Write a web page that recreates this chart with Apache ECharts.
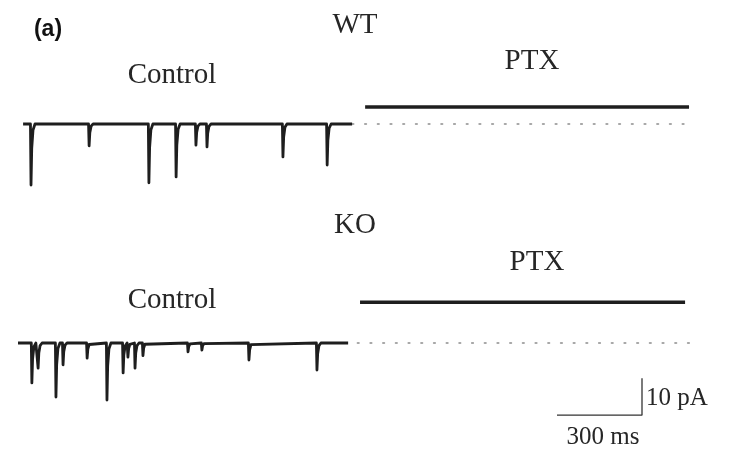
<!DOCTYPE html>
<html>
<head>
<meta charset="utf-8">
<script src="https://cdn.jsdelivr.net/npm/echarts@6/dist/echarts.min.js"></script>
<style>
  html, body { margin: 0; padding: 0; background: #fff; }
  #chart { width: 729px; height: 449px; }
</style>
</head>
<body>
<div id="chart"></div>
<script>
// time in ms, current in pA (0 = control holding level)
const wtControlSpan = [25, 1186];
const wtEventTimes = [53, 258, 469, 565, 635, 674, 942, 1098];
const wtEventAmps  = [-16.5, -5.9, -15.9, -14.3, -5.7, -6.2, -8.9, -11.1];
const wtPtxSpan = [1232, 2375];
const wtPtxLevel = 4.6;
const wtDotSpan = [1186, 2389];

const koControlSpan = [7, 1172];
const koEventTimes = [56, 78, 141, 166, 251, 321, 378, 395, 420, 448, 607, 656, 822, 1062];
const koEventAmps  = [-10.8, -6.8, -14.6, -5.9, -4.1, -15.4, -8.1, -3.8, -6.8, -3.4, -2.4, -1.9, -4.6, -7.3];
const koPtxSpan = [1214, 2361];
const koPtxLevel = 11.0;
const koDotSpan = [1160, 2379];

// scale bar: 300 ms, 10 pA
const barTime = 300;
const barCurrent = 10;
const barStart = [1909, -19.5];

function trace(span, times, amps) {
  const pts = [[span[0], 0]];
  times.forEach((t, i) => {
    const a = amps[i];
    pts.push([t - 2, 0], [t, a], [t + 2.5, a * 0.4], [t + 7, a * 0.1], [t + 14, 0]);
  });
  pts.push([span[1], 0]);
  return pts;
}

const ink = '#1e1e1e';
const serif = 'Liberation Serif';

function traceSeries(idx, data, w) {
  return { type: 'line', xAxisIndex: idx, yAxisIndex: idx, data, symbol: 'none', silent: true,
    lineStyle: { color: ink, width: w, join: 'round' } };
}
function dotSeries(idx, span) {
  return { type: 'line', xAxisIndex: idx, yAxisIndex: idx, data: [[span[0], 0], [span[1], 0]],
    symbol: 'none', silent: true, lineStyle: { color: '#8c8c8c', width: 1.6, type: [1.6, 11.1], cap: 'round' } };
}

const chart = echarts.init(document.getElementById('chart'));
const axX = { type: 'value', min: 0, max: 2516, show: false };
const axY = { type: 'value', min: -20, max: 20, show: false };

function txt(s, x, y, size, extra) {
  return { type: 'text', x, y, style: Object.assign({ text: s, fontFamily: serif, fontSize: size,
    fill: '#262626', align: 'center', verticalAlign: 'middle' }, extra || {}) };
}

chart.setOption({
  animation: false,
  grid: [
    { left: 16, right: 0, top: 50, height: 148 },
    { left: 16, right: 0, top: 269, height: 148 }
  ],
  xAxis: [Object.assign({ gridIndex: 0 }, axX), Object.assign({ gridIndex: 1 }, axX)],
  yAxis: [Object.assign({ gridIndex: 0 }, axY), Object.assign({ gridIndex: 1 }, axY)],
  series: [
    dotSeries(0, wtDotSpan),
    dotSeries(1, koDotSpan),
    traceSeries(0, trace(wtControlSpan, wtEventTimes, wtEventAmps), 2.8),
    traceSeries(0, [[wtPtxSpan[0], wtPtxLevel], [wtPtxSpan[1], wtPtxLevel]], 3.6),
    traceSeries(1, trace(koControlSpan, koEventTimes, koEventAmps), 2.8),
    traceSeries(1, [[koPtxSpan[0], koPtxLevel], [koPtxSpan[1], koPtxLevel]], 3.6),
    { type: 'line', xAxisIndex: 1, yAxisIndex: 1, symbol: 'none', silent: true,
      data: [barStart, [barStart[0] + barTime, barStart[1]], [barStart[0] + barTime, barStart[1] + barCurrent]],
      lineStyle: { color: '#333', width: 1.3 } }
  ],
  graphic: [
    txt('(a)', 48, 30, 23, { fontFamily: 'Liberation Sans', fontWeight: 'bold', fill: '#111' }),
    txt('WT', 355, 25, 29),
    txt('Control', 172, 75, 29),
    txt('PTX', 532, 61, 29),
    txt('KO', 355, 225, 29),
    txt('Control', 172, 300, 29),
    txt('PTX', 537, 262, 29),
    txt('10 pA', 646, 398, 25, { align: 'left' }),
    txt('300 ms', 603, 437, 25)
  ]
});
</script>
</body>
</html>
